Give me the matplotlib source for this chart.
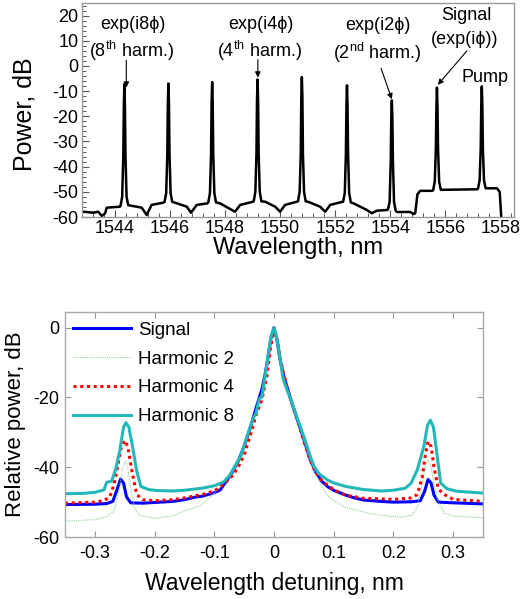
import matplotlib
matplotlib.use("Agg")
import matplotlib.pyplot as plt
from matplotlib.ticker import MultipleLocator

plt.rcParams['font.family'] = ['Liberation Sans', 'DejaVu Sans']
plt.rcParams['mathtext.fontset'] = 'custom'
plt.rcParams['mathtext.rm'] = 'Liberation Sans'
plt.rcParams['mathtext.it'] = 'Liberation Sans:italic'
plt.rcParams['axes.unicode_minus'] = False

# ---------------- Top panel: optical spectrum ----------------
spectrum_wl = [
    1542.80, 1542.85, 1543.21, 1543.39, 1543.52, 1543.64, 1543.70, 1544.18,
    1544.20, 1544.26, 1544.30, 1544.32, 1544.34, 1544.36, 1544.38, 1544.42, 1544.48,
    1544.97, 1545.15, 1545.33, 1545.76,
    1545.80, 1545.86, 1545.90, 1545.92, 1545.94, 1545.96, 1545.98, 1546.02, 1546.08,
    1546.18, 1546.61, 1546.76, 1546.97, 1547.35,
    1547.39, 1547.45, 1547.49, 1547.51, 1547.53, 1547.55, 1547.57, 1547.61, 1547.67,
    1547.82, 1548.36, 1548.55, 1549.03,
    1549.04, 1549.10, 1549.14, 1549.16, 1549.18, 1549.20, 1549.22, 1549.26, 1549.32,
    1549.45, 1549.82, 1550.00, 1550.18, 1550.61,
    1550.65, 1550.71, 1550.75, 1550.77, 1550.79, 1550.81, 1550.83, 1550.87, 1550.93,
    1551.03, 1551.45, 1551.64, 1551.82, 1552.24,
    1552.29, 1552.35, 1552.39, 1552.41, 1552.43, 1552.45, 1552.47, 1552.51, 1552.57,
    1552.67, 1553.15, 1553.33, 1553.52, 1553.90,
    1553.92, 1553.98, 1554.02, 1554.04, 1554.06, 1554.08, 1554.10, 1554.14, 1554.20,
    1554.24, 1554.73, 1554.85, 1554.91, 1554.99, 1555.09, 1555.52,
    1555.56, 1555.62, 1555.66, 1555.68, 1555.70, 1555.72, 1555.74, 1555.78, 1555.84,
    1555.88, 1557.15,
    1557.19, 1557.25, 1557.29, 1557.31, 1557.33, 1557.35, 1557.37, 1557.41, 1557.47,
    1557.52, 1557.88, 1557.98, 1558.06,
]
spectrum_db = [
    -58.0, -57.9, -58.3, -57.9, -59.6, -58.5, -56.3, -55.9,
    -55.6, -52.0, -36.0, -16.0, -7.3, -16.0, -36.0, -52.0, -55.3,
    -56.3, -59.2, -55.2, -54.3,
    -54.0, -50.5, -35.0, -15.0, -7.0, -15.0, -35.0, -50.5, -54.0,
    -54.3, -55.9, -58.3, -55.2, -54.6,
    -54.2, -50.5, -35.0, -14.5, -6.4, -14.5, -35.0, -50.5, -54.2,
    -54.6, -57.9, -55.2, -53.9,
    -53.8, -50.0, -35.0, -13.5, -5.4, -13.5, -35.0, -50.0, -53.8,
    -53.9, -55.9, -57.9, -55.2, -53.9,
    -53.8, -50.0, -35.0, -12.5, -4.4, -12.5, -35.0, -50.0, -53.8,
    -54.0, -55.9, -57.9, -55.2, -54.0,
    -53.9, -50.5, -35.0, -15.5, -7.7, -15.5, -35.0, -50.5, -54.2,
    -54.6, -57.2, -58.5, -57.5, -57.2,
    -57.0, -54.0, -38.0, -21.0, -13.7, -21.0, -38.0, -54.0, -57.5,
    -58.0, -58.0, -58.8, -58.5, -51.0, -49.6, -49.6,
    -49.4, -46.0, -33.0, -16.5, -8.6, -16.5, -33.0, -46.0, -49.2,
    -49.2, -49.0,
    -48.8, -45.5, -33.0, -16.0, -8.1, -16.0, -33.0, -45.5, -48.6,
    -48.6, -48.6, -50.0, -64.0,
]

# annotations
ann_labels = ["exp(i8\u03d5)", "(8$^{\\mathrm{th}}$ harm.)",
              "exp(i4\u03d5)", "(4$^{\\mathrm{th}}$ harm.)",
              "exp(i2\u03d5)", "(2$^{\\mathrm{nd}}$ harm.)",
              "Signal", "(exp(i\u03d5))", "Pump"]
ann_x = [1544.64, 1544.61, 1549.30, 1549.27, 1553.54, 1553.54, 1556.76, 1556.69, 1557.44]
ann_y = [16.4, 6.1, 16.4, 6.1, 16.0, 5.1, 20.0, 10.4, -4.7]
arrow_from_x = [1544.41, 1549.19, 1553.67, 1556.79]
arrow_from_y = [2.2, 2.5, -1.0, 6.0]
arrow_to_x = [1544.41, 1549.19, 1554.06, 1555.73]
arrow_to_y = [-8.6, -4.6, -13.2, -7.5]

# ---------------- Bottom panel: relative spectra ----------------
sig_x = [-0.35, -0.30, -0.28, -0.27, -0.263, -0.257, -0.252, -0.247, -0.24, -0.22,
         -0.20, -0.17, -0.15, -0.13, -0.12, -0.10, -0.09, -0.08, -0.07, -0.06,
         -0.05, -0.04, -0.03, -0.02, -0.015, -0.01, -0.005, 0.0, 0.005, 0.01,
         0.015, 0.02, 0.03, 0.04, 0.05, 0.06, 0.07, 0.08, 0.09, 0.10,
         0.12, 0.135, 0.15, 0.18, 0.20, 0.23, 0.245, 0.252, 0.258, 0.263,
         0.268, 0.275, 0.30, 0.35]
sig_y = [-50.7, -50.6, -50.4, -49.8, -46.5, -43.4, -44.5, -48.5, -50.2, -50.3,
         -50.1, -49.8, -49.3, -48.5, -48.3, -47.3, -46.5, -44.0, -41.5, -38.3,
         -34.0, -28.8, -23.0, -17.5, -13.5, -8.5, -3.0, 0.0, -3.5, -9.0,
         -13.0, -16.0, -21.6, -26.8, -32.0, -37.5, -41.5, -44.0, -45.6, -46.6,
         -48.0, -48.8, -49.4, -49.8, -50.0, -49.9, -49.6, -47.0, -43.5, -44.5,
         -48.0, -50.0, -50.2, -50.5]

h2_x = [-0.35, -0.30, -0.28, -0.268, -0.26, -0.253, -0.249, -0.245, -0.24, -0.233,
        -0.225, -0.20, -0.17, -0.15, -0.123, -0.10, -0.09, -0.08, -0.07, -0.06,
        -0.05, -0.04, -0.03, -0.02, -0.01, 0.0, 0.01, 0.02, 0.03, 0.04,
        0.05, 0.06, 0.07, 0.08, 0.09, 0.10, 0.12, 0.156, 0.18, 0.212,
        0.23, 0.24, 0.247, 0.253, 0.258, 0.263, 0.268, 0.275, 0.285, 0.30, 0.35]
h2_y = [-55.5, -55.0, -54.2, -52.5, -47.0, -40.0, -38.3, -40.0, -46.0, -52.0,
        -53.8, -54.6, -54.0, -52.5, -51.0, -47.5, -45.5, -43.5, -41.8, -38.8,
        -34.5, -29.0, -23.5, -18.0, -9.0, 0.0, -9.5, -16.5, -22.0, -27.0,
        -32.5, -38.0, -42.0, -45.5, -48.2, -49.5, -51.5, -53.1, -53.8, -54.3,
        -53.8, -51.4, -46.0, -40.0, -37.9, -40.0, -45.0, -50.0, -53.1, -54.0, -54.5]

h4_x = [-0.35, -0.30, -0.285, -0.275, -0.268, -0.262, -0.256, -0.25, -0.245, -0.238,
        -0.23, -0.22, -0.20, -0.17, -0.15, -0.12, -0.10, -0.085, -0.07, -0.06,
        -0.05, -0.04, -0.03, -0.02, -0.012, -0.006, 0.0, 0.006, 0.012, 0.02,
        0.03, 0.04, 0.05, 0.06, 0.07, 0.08, 0.10, 0.12, 0.15, 0.20,
        0.23, 0.24, 0.248, 0.253, 0.258, 0.263, 0.268, 0.275, 0.282, 0.30, 0.35]
h4_y = [-50.3, -50.0, -49.6, -48.5, -45.0, -40.0, -34.5, -32.3, -34.0, -41.0,
        -47.8, -49.3, -49.6, -49.3, -48.8, -47.8, -46.8, -45.0, -42.5, -40.0,
        -36.5, -31.0, -25.0, -20.5, -14.0, -6.0, 0.0, -4.0, -10.0, -16.0,
        -21.8, -27.0, -32.5, -37.8, -41.5, -43.8, -46.5, -48.0, -48.9, -49.2,
        -48.8, -47.8, -43.0, -37.0, -32.6, -34.0, -40.0, -46.0, -47.5, -49.2, -49.8]

h8_x = [-0.35, -0.32, -0.30, -0.285, -0.28, -0.272, -0.265, -0.258, -0.252, -0.248,
        -0.243, -0.237, -0.23, -0.223, -0.21, -0.195, -0.17, -0.15, -0.12, -0.10,
        -0.085, -0.075, -0.065, -0.055, -0.045, -0.035, -0.03, -0.025, -0.02, -0.015,
        -0.01, -0.005, 0.0, 0.005, 0.01, 0.015, 0.02, 0.03, 0.035, 0.04,
        0.05, 0.06, 0.067, 0.075, 0.089, 0.10, 0.12, 0.15, 0.18, 0.20,
        0.22, 0.23, 0.24, 0.251, 0.257, 0.262, 0.267, 0.272, 0.279, 0.29,
        0.307, 0.35]
h8_y = [-47.6, -47.5, -47.2, -46.5, -44.3, -44.0, -40.5, -35.0, -28.5, -27.2,
        -28.5, -34.0, -41.0, -45.5, -46.4, -46.7, -46.8, -46.6, -46.0, -45.3,
        -44.3, -42.5, -39.5, -36.5, -31.0, -26.0, -24.5, -20.5, -19.8, -14.0,
        -8.0, -2.5, 0.0, -3.0, -8.5, -14.5, -17.0, -21.5, -24.0, -26.5,
        -31.2, -36.5, -39.8, -41.8, -43.6, -44.5, -45.5, -46.4, -46.8, -46.6,
        -46.0, -44.5, -40.7, -34.0, -28.0, -26.5, -28.5, -35.0, -44.5, -46.2,
        -46.9, -47.4]

series_labels = ["Signal", "Harmonic 2", "Harmonic 4", "Harmonic 8"]

fig = plt.figure(figsize=(5.28, 5.99), dpi=100)

# ---- top axes ----
ax1 = fig.add_axes([82/528, 1-217/599, (514-82)/528, (217-3)/599])
ax1.plot(spectrum_wl, spectrum_db, color='black', lw=1.8, solid_joinstyle='round')
ax1.set_xlim(1542.8, 1558.5)
ax1.set_ylim(-60, 25)
ax1.xaxis.set_major_locator(MultipleLocator(2))
ax1.xaxis.set_minor_locator(MultipleLocator(0.4))
ax1.yaxis.set_major_locator(MultipleLocator(10))
ax1.yaxis.set_minor_locator(MultipleLocator(2))
ax1.yaxis.set_major_formatter(matplotlib.ticker.FormatStrFormatter('%d'))
ax1.tick_params(which='both', direction='in', top=False, right=False, labelsize=13)
ax1.tick_params(which='major', length=5, width=0.8, color='#555555', pad=2.5)
ax1.tick_params(which='minor', length=3, width=0.7, color='#555555')
for s in ax1.spines.values():
    s.set_color('#999999')
    s.set_linewidth(1.0)
ax1.set_ylabel("Power, dB", fontsize=18)
ax1.yaxis.set_label_coords(-0.105, 0.48)
ax1.set_xlabel("Wavelength, nm", fontsize=17)
ax1.xaxis.set_label_coords(0.5, -0.092)

for i, lab in enumerate(ann_labels):
    ax1.text(ann_x[i], ann_y[i], lab, fontsize=13, ha='center', va='center')
for i in range(len(arrow_from_x)):
    ax1.annotate("", xy=(arrow_to_x[i], arrow_to_y[i]),
                 xytext=(arrow_from_x[i], arrow_from_y[i]),
                 arrowprops=dict(arrowstyle='-|>', color='black', lw=0.8,
                                 mutation_scale=8, shrinkA=0, shrinkB=0))

# ---- bottom axes ----
ax2 = fig.add_axes([65/528, 1-537/599, (483-65)/528, (537-311.7)/599])
ax2.plot(sig_x, sig_y, color='#0000ff', lw=2.2, label=series_labels[0])
ax2.plot(h2_x, h2_y, color='#8fd08f', lw=0.8, ls=(0, (1, 1)), label=series_labels[1])
ax2.plot(h4_x, h4_y, color='#ff0000', lw=2.2, ls=(0, (1, 1.2)), label=series_labels[2])
ax2.plot(h8_x, h8_y, color='#22b8b8', lw=2.2, label=series_labels[3])
ax2.set_xlim(-0.35, 0.35)
ax2.set_ylim(-60, 4.6)
ax2.set_xticks([-0.3, -0.2, -0.1, 0, 0.1, 0.2, 0.3])
ax2.set_xticklabels(["-0.3", "-0.2", "-0.1", "0", "0.1", "0.2", "0.3"])
ax2.set_yticks([-60, -40, -20, 0])
ax2.set_yticklabels(["-60", "-40", "-20", "0"])
ax2.tick_params(direction='in', top=True, right=True, labelsize=13,
                length=4, width=0.8, color='#999999')
ax2.tick_params(axis='x', pad=6)
ax2.tick_params(axis='y', pad=4)
for s in ax2.spines.values():
    s.set_color('#aaaaaa')
    s.set_linewidth(1.0)
ax2.set_ylabel("Relative power, dB", fontsize=16)
ax2.yaxis.set_label_coords(-0.093, 0.5)
ax2.set_xlabel("Wavelength detuning, nm", fontsize=16.5)
ax2.xaxis.set_label_coords(0.5, -0.155)
ax2.legend(loc='upper left', bbox_to_anchor=(0.02, 0.955), frameon=False,
           fontsize=13.5, handlelength=3.1, handletextpad=0.35,
           borderpad=0, borderaxespad=0, labelspacing=0.62)

fig.savefig("out.png", dpi=100)
